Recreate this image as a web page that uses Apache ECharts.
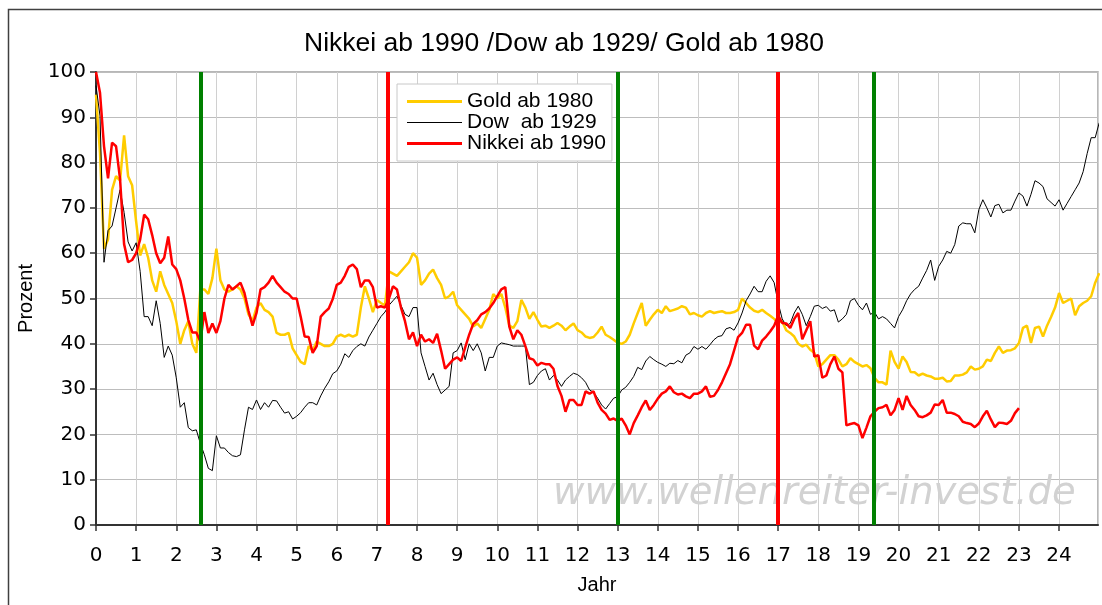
<!DOCTYPE html>
<html><head><meta charset="utf-8">
<script src="https://cdn.jsdelivr.net/npm/echarts@6/dist/echarts.min.js"></script>
<style>html,body{margin:0;padding:0;background:#fff}#c{width:1102px;height:605px}</style>
</head><body><div id="c"></div>
<script>
// time base: one value every 0.1 year, starting at year 0
const yearStep = 0.1;

const goldValues = [
95,82,61,63,74,77,76,86,77,75,
67,59.5,62,59,54,51.5,56,53,51,49,
45,40,43,45,40,38,52,52,51,54.5,
61,54,52,51.5,52,52.7,52,50,46.5,45,
48,49,47.5,47,46,42.4,42,42,42.4,39,
37.5,36,35.5,39.5,38.5,40.5,40,39.5,39.5,40,
41.6,42,41.6,42,41.6,42,48,52.7,50,47,
49.7,49,48.5,56,55.5,55,56,57,58,60,
59,53,54,55.5,56.4,54.5,53,50,50.5,51.5,
48.5,47.5,46.5,45.5,43.8,44.5,43.5,45.5,47.5,51,
50,51,48,44,43.5,45,49.7,48,45.5,47,
45.3,43.8,44,43.5,44,44.6,44,43,43.8,44.5,
43,42.5,41.6,41.3,41.5,42.5,43.8,42,41.5,40.9,
40.2,40,40.5,42,44.5,46.8,49,44,45.3,46.5,
47.5,46.8,48.3,47.2,47.5,47.8,48.3,48,46.5,46.8,
46.3,46,46.8,47.2,46.8,47,47.2,46.8,46.8,47,
47.5,50,49,48,47.3,47,47.5,46.8,46.2,45.5,
44.6,45,43,42.4,41.6,40,39.4,39.8,38.7,38,
35,35.5,36.5,37.5,37.5,36.5,35,35.5,36.8,36,
35.5,35,35.3,34.6,32.5,31.5,31.5,31,38.5,36,
34.5,37.2,36,33.8,33.7,33,33.4,33,32.8,32.3,
32.3,32.5,31.7,31.8,33,33,33.2,33.7,35,34.3,
34.5,35,36.5,36.2,38,39.4,38,38.5,38.6,39,
40.2,43.5,44,40.2,43.5,43.8,41.6,44,45.9,48,
51.2,49,49.5,50,46.3,48.3,49,49.5,50.5,53.5,
55.6];

const dowValues = [
97,90.3,58,65,66,70,74,69,62.5,60.5,
62.3,56,46,46,44,49.5,44.5,37,39.5,37.5,
32.5,26,27,21.5,20.8,21,18,15.5,12.5,12,
19.7,17,17,16,15.3,15.1,15.5,21,26,25.5,
27.6,25.5,27,26,27.5,27.4,26,24.7,25,23.4,
24,24.8,26,27,27,26.5,28.5,30.2,31.6,33.4,
34,35.5,37.8,37,38.5,39.4,40,39.5,41.5,43,
44.5,46,47,48.5,49.5,50.5,48.5,46.5,46,48,
48,38,35,32,33.5,31,29,29.8,30.6,38,
38.5,40.2,36.5,40,38.5,40,38,34,37,37,
39.5,40.2,40,39.8,39.5,39.5,39.5,39.5,31,31.5,
33,34,34.5,32,33,32,30.6,32,32.8,33.5,
33.2,32.5,31.5,29.8,29.3,28,26.5,25.6,26.8,28,
28.3,29.8,30.4,31.5,32.8,34.8,34.3,36.2,37.2,36.5,
35.9,35.5,35,35.7,35.6,36.3,35.8,37.5,38,39.4,
38.8,39.4,38.8,39.8,40.9,41.6,41.8,43.3,43.6,43,
44.6,46.8,49.5,51,52.7,51.5,51.5,53.8,55,53.5,
49,45.5,44,44.5,46.8,48.3,46.5,44,46,48.3,
48.5,47.8,48.2,47.2,47.5,44.8,45.5,46.5,49.5,50,
48.5,47.5,49,46.5,47,45.5,46,45.5,44.5,43.5,
46,47.5,49.5,51,52,52.7,54.5,56.2,58.5,54,
57.1,58.5,60.4,60,61.9,66,66.7,66.5,66.5,64.5,
69.6,71.8,70,68,70.5,70.8,68.9,69.5,69.5,71.5,
73.3,72.6,70.4,73,76,75.5,74.7,72,71.2,70.4,
71.8,69.5,71,72.5,74,75.5,78,82,85.5,85.5,
88.8];

const nikkeiValues = [
100,95.4,83.6,76.5,84.4,83.6,76.3,62,58,58.5,
60,63,68.5,67.5,64,60,57.8,59,63.7,57.5,
56.5,54,50,45.3,42.5,42.5,40.5,47,42.4,44.5,
42.4,45,50,53,52,52.7,53.5,51.2,47.3,44,
46.8,52,52.5,53.5,55,53.5,52.5,51.5,51,50,
50,46,41.6,41.5,38,39.5,46,47,47.8,49.9,
53,53.5,55,57,57.5,56.5,52.5,54,54,52.5,
48,48.3,48,50,52.7,52,48,45,41,42.5,
39.5,42,40.5,41,40.2,42.2,38.5,34.5,35.5,36.5,
37,36.2,39.2,42,44.4,45.2,46.5,47,47.8,49,
50.5,52,52.5,43.8,41,43,42,39.5,36.8,36.5,
35.2,35.8,35.5,35.5,34.5,30.7,28.5,25,27.6,27.6,
26.5,26.5,29.5,29,29.5,27,25.4,24.6,23.2,23.5,
23,23.5,22,20,22.5,24.2,26,27.5,25.4,26.5,
27.9,29,29.5,30.6,29.3,28.8,29,28.4,28,29,
29,29.5,30.6,28.3,28.5,29.8,31.5,33.5,35.5,38.5,
41.5,42.4,44.2,44.2,39.6,38.8,40.7,41.6,42.7,44,
46.2,44.6,44.5,43.5,45.5,46.8,41,43,45,37.2,
37.5,32.5,33,35.5,37.2,34.5,33.7,22,22.3,22.5,
22,19.2,21.5,24,25,25.8,26,26.5,24.2,25.4,
28,25.4,28.5,26.5,25.4,24,23.8,24.2,24.8,26.6,
26.5,27.6,24.8,24.8,24.5,24,22.8,22.5,22.3,21.6,
22.4,24,25.2,23.3,21.6,22.6,22.5,22.3,23,24.7,
25.8];

const markerYears = [2.6, 7.27, 13, 17, 19.37];
const markerColors = ['#008000', '#ff0000', '#008000', '#ff0000', '#008000'];
const seriesNames = ['Gold ab 1980', 'Dow  ab 1929', 'Nikkei ab 1990'];
const seriesColors = ['#ffcc00', '#000000', '#ff0000'];
const seriesWidths = [2.5, 1, 2.5];
const titleText = 'Nikkei ab 1990 /Dow ab 1929/ Gold ab 1980';
const watermarkText = 'www.wellenreiter-invest.de';

function toPairs(vals) {
  return vals.map((v, i) => [Math.round(i * yearStep * 100) / 100, v]);
}
const allValues = [goldValues, dowValues, nikkeiValues];

const chart = echarts.init(document.getElementById('c'), null, {renderer: 'canvas'});
const lineSeries = seriesNames.map((n, i) => ({
  name: n, type: 'line', data: toPairs(allValues[i]),
  showSymbol: false, symbol: 'none', smooth: false, z: 2 + i,
  color: seriesColors[i],
  lineStyle: {color: seriesColors[i], width: seriesWidths[i]},
  emphasis: {disabled: true}
}));
lineSeries.push({
  name: 'markers', type: 'line', data: [], z: 10, silent: true,
  markLine: {
    symbol: ['none', 'none'], silent: true, animation: false,
    label: {show: false},
    data: markerYears.map((x, i) => [
      {coord: [x, 0], lineStyle: {color: markerColors[i], width: 4, type: 'solid'}},
      {coord: [x, 100]}
    ])
  }
});

const option = {
  animation: false,
  backgroundColor: '#ffffff',
  title: {
    text: titleText, left: 304, top: 30, padding: 0,
    textStyle: {fontFamily: 'Liberation Sans', fontSize: 26.5, fontWeight: 'normal', color: '#000'}
  },
  legend: {
    orient: 'vertical', left: 397, top: 84, padding: [7, 6, 7, 10],
    itemGap: 0, itemWidth: 55, itemHeight: 3,
    backgroundColor: '#ffffff', borderColor: '#c8c8c8', borderWidth: 1, borderRadius: 0,
    itemStyle: {borderWidth: 0},
    textStyle: {fontFamily: 'Liberation Sans', fontSize: 21, color: '#000', lineHeight: 20},
    selectedMode: false,
    data: [
      {name: seriesNames[0], icon: 'path://M0,0H55V3H0Z'},
      {name: seriesNames[1], icon: 'path://M0,0H55V1H0Z'},
      {name: seriesNames[2], icon: 'path://M0,0H55V3H0Z'}
    ]
  },
  grid: {left: 96, top: 72, width: 1002, height: 453, show: true,
    borderColor: '#a0a0a0', borderWidth: 1.5, backgroundColor: 'transparent', containLabel: false},
  xAxis: {
    type: 'value', min: 0, max: 24.97, interval: 1,
    name: 'Jahr', nameLocation: 'middle', nameGap: 50,
    nameTextStyle: {fontFamily: 'Liberation Sans', fontSize: 20, color: '#000'},
    axisLine: {show: true, onZero: false, lineStyle: {color: '#333', width: 2}},
    axisTick: {show: true, length: 6, lineStyle: {color: '#333', width: 1.5}},
    axisLabel: {margin: 21, fontFamily: 'DejaVu Sans', fontSize: 20, color: '#000',
      showMaxLabel: false,
      formatter: v => Math.abs(v - Math.round(v)) < 1e-6 ? String(Math.round(v)) : ''},
    splitLine: {show: true, lineStyle: {color: '#d0d0d0', width: 1}}
  },
  yAxis: {
    type: 'value', min: 0, max: 100, interval: 10,
    name: 'Prozent', nameLocation: 'middle', nameGap: 57, nameRotate: 90,
    nameTextStyle: {fontFamily: 'Liberation Sans', fontSize: 20, color: '#000'},
    axisLine: {show: true, lineStyle: {color: '#333', width: 2}},
    axisTick: {show: true, length: 6, lineStyle: {color: '#333', width: 1.5}},
    axisLabel: {margin: 10, fontFamily: 'DejaVu Sans', fontSize: 20, color: '#000'},
    splitLine: {show: true, lineStyle: {color: '#bdbdbd', width: 1}}
  },
  graphic: [
    {type: 'rect', silent: true, z: -10,
     shape: {x: 8.5, y: 9.5, width: 1100, height: 600},
     style: {fill: 'none', stroke: '#404040', lineWidth: 1.5}},
    {type: 'text', silent: true, z: 1, x: 553, y: 494,
     style: {text: watermarkText, font: 'italic 38.5px "DejaVu Sans"', fill: '#d2d2d2', verticalAlign: 'middle', align: 'left'}}
  ],
  series: lineSeries
};
chart.setOption(option);
</script>
</body></html>
